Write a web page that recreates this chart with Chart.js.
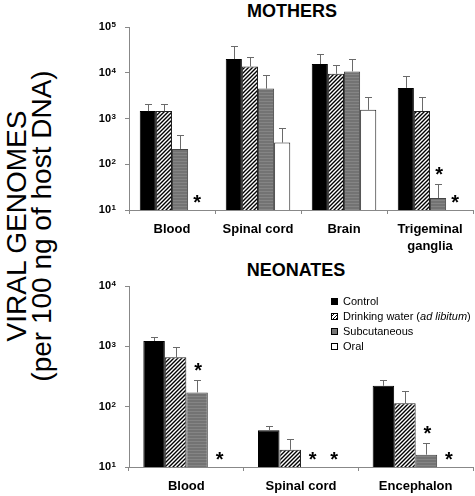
<!DOCTYPE html>
<html>
<head>
<meta charset="utf-8">
<script src="https://cdn.jsdelivr.net/npm/chart.js@4/dist/chart.umd.min.js"></script>
<style>
  html, body { margin:0; padding:0; background:#fff; }
  #wrap { position:relative; width:475px; height:496px; overflow:hidden; font-family:"Liberation Sans", Arial, sans-serif; }
  canvas { position:absolute; left:0; }
  .ttl { position:absolute; width:200px; text-align:center; font-weight:bold; font-size:18px; line-height:18px; color:#000; }
  #ytitle { position:absolute; width:400px; height:50px; left:-171px; top:201px; font-size:28px; line-height:25px; text-align:center; transform:rotate(-90deg); transform-origin:50% 50%; white-space:nowrap; color:#000; }
  #legend { position:absolute; left:331px; top:294px; font-size:11px; line-height:15px; color:#000; }
  #legend div { position:relative; padding-left:12px; white-space:nowrap; }
  #legend span.sw { position:absolute; left:0; top:4px; width:5px; height:5px; border:1px solid #000; }
</style>
</head>
<body>
<div id="wrap">
  <div id="ytitle">VIRAL GENOMES<br>(per 100 ng of host DNA)</div>
  <div class="ttl" style="left:192px; top:2px;">MOTHERS</div>
  <div class="ttl" style="left:196px; top:261px;">NEONATES</div>
  <canvas id="c1" width="475" height="256" style="top:0px"></canvas>
  <canvas id="c2" width="475" height="240" style="top:256px"></canvas>
  <div id="legend">
    <div><span class="sw" style="background:#000"></span>Control</div>
    <div><span class="sw" style="background:repeating-linear-gradient(-45deg,#000 0 1px,#fff 1px 2.5px)"></span>Drinking water (<i>ad libitum</i>)</div>
    <div><span class="sw" style="background:#777"></span>Subcutaneous</div>
    <div><span class="sw" style="background:#fff"></span>Oral</div>
  </div>
</div>
<script>
// ---------- DATA ----------
const seriesNames = ['Control', 'Drinking water (ad libitum)', 'Subcutaneous', 'Oral'];

const mothersCategories = ['Blood', 'Spinal cord', 'Brain', ['Trigeminal', 'ganglia']];
const mothersControl      = [1450, 19900, 15500, 4670];
const mothersControlErr   = [670, 17600, 9600, 3850];
const mothersDrinking     = [1450, 13700, 9500, 1450];
const mothersDrinkingErr  = [670, 8600, 5200, 1520];
const mothersSubcut       = [216, 4500, 10700, 18.3];
const mothersSubcutErr    = [228, 4470, 9500, 19.2];
const mothersOral         = [null, 297, 1545, null];
const mothersOralErr      = [null, 323, 1375, null];
const mothersSubcutSig    = [false, false, false, true];
const mothersOralSig      = [true, false, false, true];

const neonatesCategories  = ['Blood', 'Spinal cord', 'Encephalon'];
const neonatesControl     = [1225, 40.8, 222];
const neonatesControlErr  = [220, 7.9, 50];
const neonatesDrinking    = [661, 19.3, 113.5];
const neonatesDrinkingErr = [305, 9.3, 70];
const neonatesSubcut      = [172, null, 16];
const neonatesSubcutErr   = [100, null, 8.9];
const neonatesOral        = [null, null, null];
const neonatesOralErr     = [null, null, null];
const neonatesSubcutSig   = [true, true, true];
const neonatesOralSig     = [true, true, true];

const mothersYTicks  = [10, 100, 1000, 10000, 100000];
const neonatesYTicks = [10, 100, 1000, 10000];
const yTickBase = '10';
const yTickExponents = {10: '1', 100: '2', 1000: '3', 10000: '4', 100000: '5'};

// ---------- STYLES ----------
const FONT = '"Liberation Sans", Arial, sans-serif';
function hatchPattern() {
  const c = document.createElement('canvas'); c.width = 4; c.height = 4;
  const g = c.getContext('2d');
  g.fillStyle = '#fff'; g.fillRect(0, 0, 4, 4);
  g.strokeStyle = '#000'; g.lineWidth = 1.4;
  g.beginPath();
  g.moveTo(-1, 5); g.lineTo(5, -1);
  g.moveTo(-1, 1); g.lineTo(1, -1);
  g.moveTo(3, 5); g.lineTo(5, 3);
  g.stroke();
  return g.createPattern(c, 'repeat');
}
function grayPattern() {
  const c = document.createElement('canvas'); c.width = 4; c.height = 3;
  const g = c.getContext('2d');
  g.fillStyle = '#737373'; g.fillRect(0, 0, 4, 3);
  g.fillStyle = '#858585'; g.fillRect(0, 2, 4, 1);
  return g.createPattern(c, 'repeat');
}
const fills = ['#000000', hatchPattern(), grayPattern(), '#ffffff'];
const borders = ['#000000', '#222222', '#444444', '#222222'];

const errPlugin = {
  id: 'errStars',
  afterDatasetsDraw(chart) {
    const ctx = chart.ctx, ys = chart.scales.y;
    ctx.save();
    chart.data.datasets.forEach((ds, i) => {
      const meta = chart.getDatasetMeta(i);
      meta.data.forEach((bar, j) => {
        const v = ds.data[j], e = ds.errors[j];
        let top = null;
        if (v != null) {
          const yv = ys.getPixelForValue(v), ye = ys.getPixelForValue(v + e);
          ctx.strokeStyle = '#6a6a6a'; ctx.lineWidth = 1;
          ctx.beginPath();
          ctx.moveTo(Math.round(bar.x) + 0.5, yv); ctx.lineTo(Math.round(bar.x) + 0.5, Math.round(ye) + 0.5);
          ctx.moveTo(Math.round(bar.x) - 3, Math.round(ye) + 0.5); ctx.lineTo(Math.round(bar.x) + 4, Math.round(ye) + 0.5);
          ctx.stroke();
          top = ye;
        }
        if (ds.sig && ds.sig[j]) {
          const cy = top != null ? top - 13 : ys.bottom - 11;
          ctx.font = 'bold 20px ' + FONT;
          ctx.fillStyle = '#000'; ctx.textAlign = 'center'; ctx.textBaseline = 'alphabetic';
          const m = ctx.measureText('*');
          ctx.fillText('*', bar.x + 1, cy + (m.actualBoundingBoxAscent - m.actualBoundingBoxDescent) / 2);
        }
      });
    });
    ctx.restore();
  }
};

// y tick labels drawn as 10 with a raised exponent
const powerLabelPlugin = {
  id: 'powerLabels',
  afterDraw(chart) {
    const ctx = chart.ctx, ys = chart.scales.y;
    const right = ys.right - 4 - 9;
    ctx.save();
    ctx.fillStyle = '#000';
    ys.ticks.forEach(t => {
      const y = ys.getPixelForValue(t.value);
      const ex = yTickExponents[t.value];
      ctx.font = 'bold 8px ' + FONT;
      const w2 = ctx.measureText(ex).width;
      ctx.textAlign = 'left'; ctx.textBaseline = 'top';
      ctx.fillText(ex, right - w2, y - 6);
      ctx.font = 'bold 11px ' + FONT;
      ctx.textAlign = 'right'; ctx.textBaseline = 'middle';
      ctx.fillText(yTickBase, right - w2 - 0.5, y);
    });
    ctx.restore();
  }
};

function makeChart(id, cats, series, errs, sigs, yTicks, yMax, padTop, xHeight) {
  const datasets = series.map((d, i) => ({
    label: seriesNames[i], data: d, errors: errs[i], sig: sigs[i],
    backgroundColor: fills[i], borderColor: borders[i], borderWidth: 1,
    categoryPercentage: 0.75, barPercentage: 1.0
  }));
  return new Chart(document.getElementById(id), {
    type: 'bar',
    data: { labels: cats, datasets },
    plugins: [errPlugin, powerLabelPlugin],
    options: {
      responsive: false, animation: false, devicePixelRatio: 1,
      layout: { padding: { top: padTop, right: 2, left: 0, bottom: 0 } },
      plugins: { legend: { display: false }, title: { display: false }, tooltip: { enabled: false } },
      scales: {
        x: {
          grid: { offset: true, drawOnChartArea: false, drawTicks: true, tickLength: 4, color: '#888' },
          border: { color: '#888', width: 1 },
          ticks: { font: { family: FONT, size: 13, weight: 'bold', lineHeight: 1.3 }, color: '#000', padding: 7, maxRotation: 0, autoSkip: false },
          afterFit: s => { s.height = xHeight; }
        },
        y: {
          type: 'logarithmic', min: 10, max: yMax,
          grid: { drawOnChartArea: false, drawTicks: true, tickLength: 4, color: '#888' },
          border: { color: '#888', width: 1 },
          ticks: { font: { family: FONT, size: 11, weight: 'bold' }, color: 'rgba(0,0,0,0)', padding: 9,
                   callback: v => yTickBase + yTickExponents[v] },
          afterBuildTicks: s => { s.ticks = yTicks.map(v => ({ value: v })); },
          afterFit: s => { s.width = 129; }
        }
      }
    }
  });
}

makeChart('c1', mothersCategories,
  [mothersControl, mothersDrinking, mothersSubcut, mothersOral],
  [mothersControlErr, mothersDrinkingErr, mothersSubcutErr, mothersOralErr],
  [null, null, mothersSubcutSig, mothersOralSig],
  mothersYTicks, 100000, 27, 46);

makeChart('c2', neonatesCategories,
  [neonatesControl, neonatesDrinking, neonatesSubcut, neonatesOral],
  [neonatesControlErr, neonatesDrinkingErr, neonatesSubcutErr, neonatesOralErr],
  [null, null, neonatesSubcutSig, neonatesOralSig],
  neonatesYTicks, 10000, 30, 29);
</script>
</body>
</html>
